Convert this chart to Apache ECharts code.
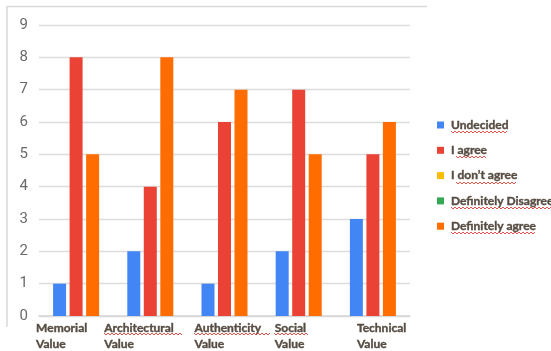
<!DOCTYPE html>
<html>
<head>
<meta charset="utf-8">
<script src="https://cdn.jsdelivr.net/npm/echarts@6/dist/echarts.min.js"></script>
<style>
  html, body { margin: 0; padding: 0; background: #fff; }
  #chart { width: 551px; height: 351px; }
</style>
</head>
<body>
<div id="chart"></div>
<script>
// Survey answers per heritage value
var categories = ['Memorial\nValue', 'Architectural\nValue', 'Authenticity\nValue', 'Social\nValue', 'Technical\nValue'];
var seriesNames = ['Undecided', 'I agree', 'I don\u2019t agree', 'Definitely Disagree', 'Definitely agree'];
var undecided = [1, 2, 1, 2, 3];
var iAgree = [8, 4, 6, 7, 5];
var iDontAgree = [];
var definitelyDisagree = [];
var definitelyAgree = [5, 8, 7, 5, 6];
var yTicks = [0, 1, 2, 3, 4, 5, 6, 7, 8, 9];

// horizontal nudge of each category caption relative to its group centre
var captionShift = [-40, -46, -30, -24, -16];

var colors = ['#4285F4', '#EA4335', '#FBBC04', '#34A853', '#FF6D01'];
var textColor = '#574d43';
var fontFamily = 'Lato, "Open Sans", sans-serif';

var chart = echarts.init(document.getElementById('chart'), null, { renderer: 'canvas' });

function barSeries(name, data, color) {
  return {
    name: name, type: 'bar', data: data,
    barWidth: 13, barGap: '27%',
    itemStyle: { color: color },
    emphasis: { disabled: true }
  };
}
function emptySeries(name, data, color) {
  return { name: name, type: 'line', data: data, itemStyle: { color: color }, lineStyle: { color: color } };
}

chart.setOption({
  animation: false,
  color: colors,
  grid: { left: 39, right: 141, top: 25, bottom: 35 },
  legend: {
    orient: 'vertical', left: 437, top: 118, padding: 0,
    icon: 'rect', itemWidth: 7, itemHeight: 7, itemGap: 11.3,
    data: seriesNames,
    textStyle: {
      color: textColor, fontWeight: 'bold', fontSize: 12, fontFamily: fontFamily, lineHeight: 14,
      padding: [0, 0, 0, 2], textBorderColor: textColor, textBorderWidth: 0.4
    }
  },
  xAxis: {
    type: 'category', data: categories,
    axisLine: { lineStyle: { color: '#d6d6d6', width: 1.5 } },
    axisTick: { show: false },
    axisLabel: { show: false }
  },
  yAxis: {
    type: 'value', min: yTicks[0], max: yTicks[yTicks.length - 1], interval: 1,
    axisLine: { show: false }, axisTick: { show: false },
    splitLine: { lineStyle: { color: '#dcdcdc', width: 1.3 } },
    axisLabel: { color: '#6a6a6a', fontSize: 15, fontFamily: 'Roboto, sans-serif', margin: 11 }
  },
  series: [
    barSeries(seriesNames[0], undecided, colors[0]),
    barSeries(seriesNames[1], iAgree, colors[1]),
    emptySeries(seriesNames[2], iDontAgree, colors[2]),
    emptySeries(seriesNames[3], definitelyDisagree, colors[3]),
    barSeries(seriesNames[4], definitelyAgree, colors[4])
  ]
});

// wavy spell-check style underline
function squiggle(x0, x1, y) {
  var pts = [];
  var up = true;
  for (var x = x0; x <= x1; x += 2) { pts.push([x, y + (up ? -1 : 1)]); up = !up; }
  return { type: 'polyline', shape: { points: pts }, style: { stroke: '#e0403a', lineWidth: 0.9, fill: null }, silent: true };
}

var elements = [
  // outer frame edges
  { type: 'polyline', shape: { points: [[7, 327], [7, 6.5], [427, 6.5]] }, style: { stroke: '#d9d9d9', lineWidth: 1.5, fill: null }, silent: true }
];

var xAxisY = chart.convertToPixel({ yAxisIndex: 0 }, 0);
categories.forEach(function (c, i) {
  var cx = chart.convertToPixel({ xAxisIndex: 0 }, i);
  elements.push({
    type: 'text', x: cx + captionShift[i], y: xAxisY + 4,
    style: {
      text: c, fill: textColor, font: 'bold 12px ' + fontFamily, lineHeight: 16,
      textAlign: 'left', textVerticalAlign: 'top', stroke: textColor, lineWidth: 0.4
    },
    silent: true
  });
});

elements.push(squiggle(104, 183, 334));
elements.push(squiggle(194, 270, 334));
elements.push(squiggle(274, 309, 334));
elements.push(squiggle(451, 508, 132));
elements.push(squiggle(456, 486, 157));
elements.push(squiggle(456, 516, 183));
elements.push(squiggle(451, 551, 208));
elements.push(squiggle(451, 535, 233));

chart.setOption({ graphic: { elements: elements } });
</script>
</body>
</html>
